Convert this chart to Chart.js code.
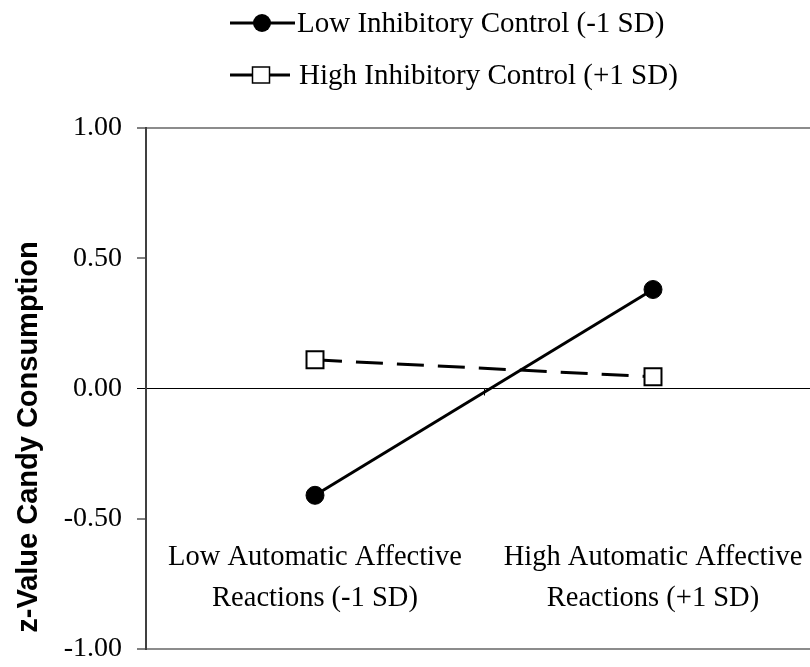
<!DOCTYPE html>
<html>
<head>
<meta charset="utf-8">
<script src="https://cdn.jsdelivr.net/npm/chart.js@4.4.1/dist/chart.umd.min.js"></script>
<style>
  html, body { margin: 0; padding: 0; background: #fff; overflow: hidden; width: 810px; height: 667px; }
  #wrap { position: relative; width: 810px; height: 667px; overflow: hidden; }
  #c { position: absolute; left: 0; top: 0; width: 830px; height: 667px; }
</style>
</head>
<body>
<div id="wrap"><canvas id="c" width="830" height="667"></canvas></div>
<script>
// ---- data ----
const categories = [
  ["Low Automatic Affective", "Reactions (-1 SD)"],
  ["High Automatic Affective", "Reactions (+1 SD)"]
];
const seriesNames = ["Low Inhibitory Control (-1 SD)", "High Inhibitory Control (+1 SD)"];
const lowControl = [-0.41, 0.38];
const highControl = [0.11, 0.045];
const yAxisTitle = "z-Value Candy Consumption";
const yMin = -1, yMax = 1, yStep = 0.5;

const SERIF = "'Liberation Serif', 'Times New Roman', serif";
const SANS = "'Liberation Sans', Arial, sans-serif";

const extrasPlugin = {
  id: 'extras',
  afterDraw(chart) {
    const ctx = chart.ctx;
    const xs = chart.scales.x, ys = chart.scales.y;
    const area = chart.chartArea;
    ctx.save();
    ctx.fillStyle = '#000';
    ctx.strokeStyle = '#000';

    // x-axis tick at the category boundary on the zero line
    const px0 = xs.getPixelForValue(0), px1 = xs.getPixelForValue(1);
    const zy = ys.getPixelForValue(0);
    const mx = Math.round((px0 + px1) / 2) + 0.5;
    ctx.lineWidth = 1;
    ctx.beginPath(); ctx.moveTo(mx, zy); ctx.lineTo(mx, zy + 7); ctx.stroke();

    // category labels (two lines each), inside the plot area
    ctx.font = "28.5px " + SERIF;
    ctx.textAlign = 'center';
    ctx.textBaseline = 'middle';
    categories.forEach((lines, i) => {
      const cx = xs.getPixelForValue(i);
      lines.forEach((t, j) => {
        ctx.fillText(t, cx, area.bottom - 91 + j * 41);
      });
    });

    // y-axis title
    ctx.save();
    ctx.font = "bold 29px " + SANS;
    ctx.textAlign = 'center';
    ctx.textBaseline = 'alphabetic';
    ctx.translate(37, 437);
    ctx.rotate(-Math.PI / 2);
    ctx.fillText(yAxisTitle, 0, 0);
    ctx.restore();

    // legend
    const ds = chart.data.datasets;
    ctx.lineWidth = 3;
    ctx.setLineDash([]);
    // row 1: solid line with filled circle
    ctx.beginPath(); ctx.moveTo(230, 23); ctx.lineTo(295, 23); ctx.stroke();
    ctx.beginPath(); ctx.arc(262, 23, 9, 0, Math.PI * 2); ctx.fill();
    // row 2: line with open square
    ctx.beginPath(); ctx.moveTo(230, 75); ctx.lineTo(290, 75); ctx.stroke();
    ctx.fillStyle = '#fff';
    ctx.fillRect(252.5, 67, 17, 16);
    ctx.lineWidth = 1.5;
    ctx.strokeRect(252.5, 67, 17, 16);
    ctx.fillStyle = '#000';

    ctx.font = "29px " + SERIF;
    ctx.textAlign = 'left';
    ctx.textBaseline = 'alphabetic';
    ctx.fillText(ds[0].label, 297, 32);
    ctx.fillText(ds[1].label, 299, 84);
    ctx.restore();
  }
};

const chart = new Chart(document.getElementById('c'), {
  type: 'line',
  data: {
    labels: categories,
    datasets: [
      {
        label: seriesNames[0],
        data: lowControl,
        borderColor: '#000',
        borderWidth: 3,
        pointStyle: 'circle',
        pointRadius: 9,
        pointBackgroundColor: '#000',
        pointBorderColor: '#000',
        pointBorderWidth: 1,
        fill: false,
        tension: 0
      },
      {
        label: seriesNames[1],
        data: highControl,
        borderColor: '#000',
        borderWidth: 3,
        borderDash: [27, 14],
        pointStyle: 'rect',
        pointRadius: 12,
        pointBackgroundColor: '#fff',
        pointBorderColor: '#000',
        pointBorderWidth: 2,
        fill: false,
        tension: 0
      }
    ]
  },
  options: {
    responsive: false,
    maintainAspectRatio: false,
    animation: false,
    devicePixelRatio: 1,
    layout: { autoPadding: false, padding: { left: 0, right: 8, top: 128, bottom: 18 } },
    plugins: {
      legend: { display: false },
      tooltip: { enabled: false },
      title: { display: false }
    },
    scales: {
      x: {
        type: 'category',
        offset: true,
        display: false
      },
      y: {
        min: yMin,
        max: yMax,
        afterFit: (s) => { s.width = 146; s.paddingTop = 0; s.paddingBottom = 0; },
        ticks: {
          stepSize: yStep,
          color: '#000',
          padding: 15,
          font: { family: SERIF, size: 28 },
          callback: (v) => Number(v).toFixed(2)
        },
        grid: {
          drawTicks: true,
          tickLength: 9,
          tickColor: '#000',
          tickWidth: 1,
          color: (c) => {
            const v = c.tick ? c.tick.value : null;
            if (v === 0) return '#000';
            if (v === yMin || v === yMax) return '#8c8c8c';
            return 'rgba(0,0,0,0)';
          },
          lineWidth: (c) => {
            const v = c.tick ? c.tick.value : null;
            if (v === 0) return 1;
            return 2;
          }
        },
        border: { display: true, color: '#404040', width: 2 }
      }
    }
  },
  plugins: [extrasPlugin]
});

// fine-tune the plot-area box to the reference frame
const target = { top: 128, bottom: 649, right: 822 };
for (let k = 0; k < 3; k++) {
  const a = chart.chartArea;
  const p = chart.options.layout.padding;
  const dt = target.top - a.top, db = a.bottom - target.bottom, dr = a.right - target.right;
  if (Math.abs(dt) < 0.5 && Math.abs(db) < 0.5 && Math.abs(dr) < 0.5) break;
  p.top += dt; p.bottom += db; p.right += dr;
  chart.update();
}
</script>
</body>
</html>
